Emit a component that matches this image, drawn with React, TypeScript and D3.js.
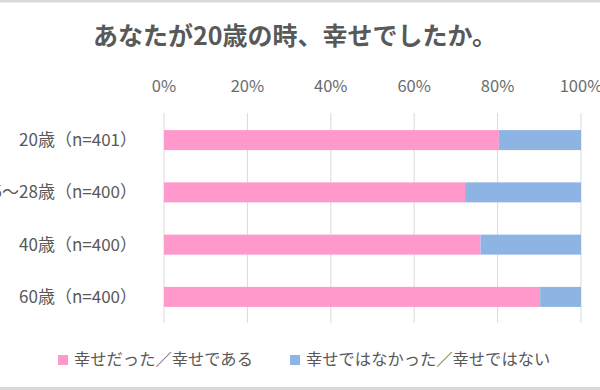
import React from "react";
import * as d3 from "d3";

const title = "あなたが20歳の時、幸せでしたか。";
const categories = ["20歳（n=401）", "25～28歳（n=400）", "40歳（n=400）", "60歳（n=400）"];
const seriesNames = ["幸せだった／幸せである", "幸せではなかった／幸せではない"];
const happy = [80.3, 72.2, 75.9, 90.2];
const unhappy = [19.7, 27.8, 24.1, 9.8];
const tickValues = [0, 20, 40, 60, 80, 100];
const colors = ["#FF99CC", "#8EB4E3"];

const W = 600;
const H = 390;
const FONT = "'Noto Sans CJK JP', 'Noto Sans', sans-serif";

export default function App() {
  const x = d3.scaleLinear().domain([0, 100]).range([164, 581]);
  const y = d3.scaleBand<string>().domain(categories).range([114, 323]).paddingInner(0.617).paddingOuter(0.308);
  const stack = d3.stack<any>().keys(["happy", "unhappy"]);
  const rows = categories.map((c, i) => ({ cat: c, happy: happy[i], unhappy: unhappy[i] }));
  const layers = stack(rows);

  return (
    <div style={{ position: "absolute", left: 0, top: 0 }}>
      <svg width={W} height={H} style={{ display: "block" }}>
        <rect x={0} y={0} width={W} height={H} fill="#fff" />
        <rect x={0} y={0} width={W} height={2.5} fill="#d9d9d9" />
        <rect x={0} y={387} width={W} height={3} fill="#d9d9d9" />
        <text x={295} y={45} textAnchor="middle" fontFamily={FONT} fontWeight="bold" fontSize={25} fill="#595959">
          {title}
        </text>
        {tickValues.map((t) => (
          <g key={t}>
            <line x1={x(t)} x2={x(t)} y1={113} y2={323} stroke="#d9d9d9" strokeWidth={1} />
            <text x={x(t)} y={92} textAnchor="middle" fontFamily={FONT} fontSize={16.5} fill="#6b6b6b">
              {t + "%"}
            </text>
          </g>
        ))}
        {layers.map((layer, li) =>
          layer.map((d, i) => (
            <rect
              key={li + "-" + i}
              x={x(d[0])}
              y={y(categories[i])}
              width={x(d[1]) - x(d[0])}
              height={y.bandwidth()}
              fill={colors[li]}
            />
          ))
        )}
        {categories.map((c) => (
          <text
            key={c}
            x={137}
            y={(y(c) as number) + y.bandwidth() / 2}
            dy="0.35em"
            textAnchor="end"
            fontFamily={FONT}
            fontSize={17}
            fill="#595959"
          >
            {c}
          </text>
        ))}
        {seriesNames.map((s, i) => {
          const lx = i === 0 ? 58 : 290;
          return (
            <g key={s}>
              <rect x={lx} y={355} width={10} height={10} fill={colors[i]} />
              <text x={lx + 16} y={365} fontFamily={FONT} fontSize={16.3} fill="#595959">
                {s}
              </text>
            </g>
          );
        })}
      </svg>
    </div>
  );
}
